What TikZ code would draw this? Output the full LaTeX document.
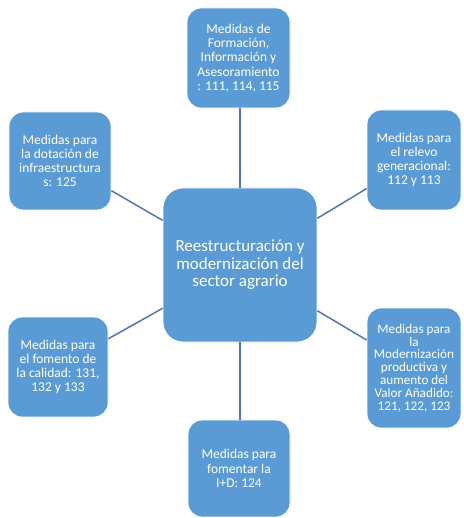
\documentclass[tikz,border=0pt]{standalone}
\usepackage{fontspec}
\setmainfont{Carlito}
\definecolor{boxblue}{RGB}{91,155,213}
\definecolor{linkblue}{RGB}{84,118,176}
\begin{document}
\begin{tikzpicture}[x=1pt,y=-1pt,
  outer/.style={draw=white,line width=0.8pt,fill=boxblue,rounded corners=14pt,
    text=white,align=center,inner sep=0pt,font=\fontsize{13.5}{14.2}\selectfont},
  hub/.style={draw=white,line width=0.8pt,fill=boxblue,rounded corners=20pt,
    text=white,align=center,inner sep=0pt,font=\fontsize{17}{17.5}\selectfont,
    minimum width=154pt,minimum height=154pt},
  link/.style={draw=linkblue,line width=1.5pt}]
\useasboundingbox (0,0) rectangle (463,518);
\node[hub] (c) at (240,265) {Reestructuración y\\modernización del\\sector agrario};
\node[outer,minimum width=103pt,minimum height=100pt] (t) at (238.5,58)
  {Medidas de\\Formación,\\Información y\\Asesoramiento\\: 111, 114, 115};
\node[outer,minimum width=102pt,minimum height=98pt] (lt) at (60,161)
  {Medidas para\\la dotación de\\infraestructura\\s: 125};
\node[outer,minimum width=94pt,minimum height=100pt] (rt) at (414,160)
  {Medidas para\\el relevo\\generacional:\\112 y 113};
\node[outer,minimum width=100pt,minimum height=100pt] (lb) at (58,367)
  {Medidas para\\el fomento de\\la calidad: 131,\\132 y 133};
\node[outer,minimum width=94pt,minimum height=120pt,font=\fontsize{13.2}{12.8}\selectfont] (rb) at (414,368)
  {Medidas para\\la\\Modernización\\productiva y\\aumento del\\Valor Añadido:\\121, 122, 123};
\node[outer,minimum width=102pt,minimum height=97pt] (b) at (239,468.5)
  {Medidas para\\fomentar la\\I+D: 124};
\draw[link] (c.north) -- (c.north |- t.south);
\draw[link] (c.south) -- (c.south |- b.north);
\draw[link] (c) -- (lt);
\draw[link] (c) -- (rt);
\draw[link] (c) -- (lb);
\draw[link] (c) -- (rb);
\end{tikzpicture}
\end{document}
